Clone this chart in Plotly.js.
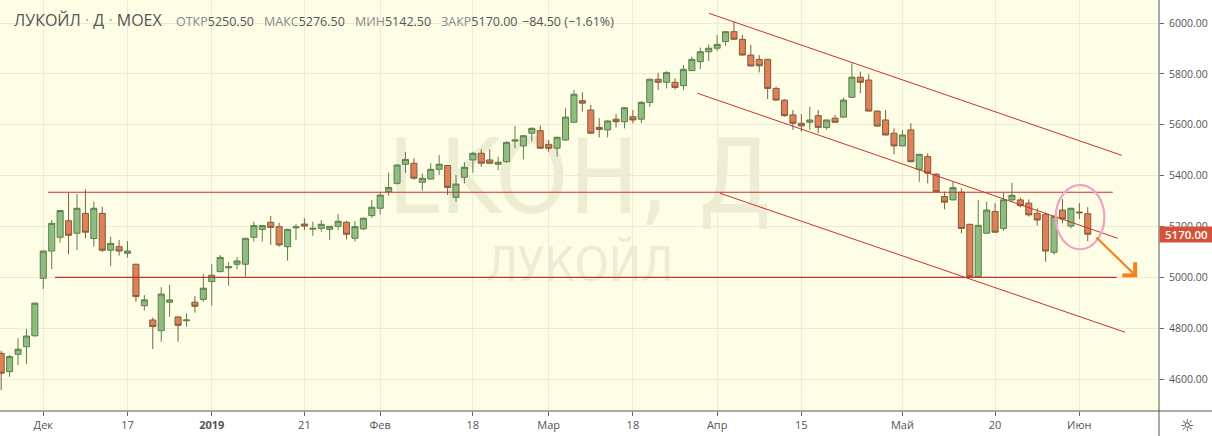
<!DOCTYPE html>
<html><head><meta charset="utf-8">
<script src="https://cdn.plot.ly/plotly-3.0.1.min.js"></script>
<style>html,body{margin:0;padding:0;background:#fff;}#chart{width:1212px;height:436px;}</style>
</head><body><div id="chart"></div>
<script>
const dates = [
'2018-11-26','2018-11-27','2018-11-28','2018-11-29','2018-11-30',
'2018-12-03','2018-12-04','2018-12-05','2018-12-06','2018-12-07','2018-12-10','2018-12-11','2018-12-12','2018-12-13','2018-12-14',
'2018-12-17','2018-12-18','2018-12-19','2018-12-20','2018-12-21','2018-12-24','2018-12-25','2018-12-26','2018-12-27','2018-12-28',
'2019-01-03','2019-01-04','2019-01-08','2019-01-09','2019-01-10','2019-01-11','2019-01-14','2019-01-15','2019-01-16','2019-01-17','2019-01-18',
'2019-01-21','2019-01-22','2019-01-23','2019-01-24','2019-01-25','2019-01-28','2019-01-29','2019-01-30','2019-01-31',
'2019-02-01','2019-02-04','2019-02-05','2019-02-06','2019-02-07','2019-02-08','2019-02-11','2019-02-12','2019-02-13','2019-02-14','2019-02-15',
'2019-02-18','2019-02-19','2019-02-20','2019-02-21','2019-02-22','2019-02-25','2019-02-26','2019-02-27','2019-02-28',
'2019-03-01','2019-03-04','2019-03-05','2019-03-06','2019-03-07','2019-03-11','2019-03-12','2019-03-13','2019-03-14','2019-03-15',
'2019-03-18','2019-03-19','2019-03-20','2019-03-21','2019-03-22','2019-03-25','2019-03-26','2019-03-27','2019-03-28','2019-03-29',
'2019-04-01','2019-04-02','2019-04-03','2019-04-04','2019-04-05','2019-04-08','2019-04-09','2019-04-10','2019-04-11','2019-04-12',
'2019-04-15','2019-04-16','2019-04-17','2019-04-18','2019-04-19','2019-04-22','2019-04-23','2019-04-24','2019-04-25','2019-04-26','2019-04-29','2019-04-30',
'2019-05-02','2019-05-03','2019-05-06','2019-05-07','2019-05-08','2019-05-10','2019-05-13','2019-05-14','2019-05-15','2019-05-16','2019-05-17',
'2019-05-20','2019-05-21','2019-05-22','2019-05-23','2019-05-24','2019-05-27','2019-05-28','2019-05-29','2019-05-30','2019-05-31',
'2019-06-03','2019-06-04'];

const open = [
4702,4630,4698,4728,4771,
4997,5104,5158,5223,5174,5252,5153,5252,5107,5121,
5095,5052,4889,4833,4791,4903,4845,4830,4903,4914,
4984,5023,5038,5052,5052,5158,5189,5217,5200,5121,5195,
5210,5190,5193,5189,5201,5217,5154,5191,5243,
5272,5337,5370,5445,5449,5374,5387,5425,5440,5315,5394,
5462,5488,5462,5445,5455,5536,5517,5567,5577,
5523,5508,5540,5610,5695,5658,5590,5580,5622,5612,
5632,5622,5688,5779,5767,5767,5754,5813,5848,5887,
5901,5927,5966,5936,5874,5857,5857,5743,5697,5639,
5606,5610,5636,5589,5626,5630,5708,5787,5776,5654,5619,5567,
5517,5580,5425,5475,5406,5318,5305,5335,5209,5003,5174,
5259,5193,5305,5305,5292,5252,5248,5099,5265,5202,
5257,5250.5];

const high = [
4712,4696,4761,4797,4903,
5106,5226,5265,5333,5328,5347,5298,5278,5160,5147,
5143,5054,4931,4842,4962,4971,4848,4859,4927,5014,
5052,5088,5060,5080,5156,5219,5207,5242,5215,5192,5210,
5233,5219,5226,5203,5250,5222,5222,5235,5305,
5337,5412,5445,5494,5468,5409,5449,5481,5442,5403,5453,
5494,5504,5504,5475,5535,5595,5560,5590,5597,
5540,5553,5665,5737,5728,5678,5626,5618,5642,5670,
5658,5694,5781,5805,5811,5783,5835,5868,5903,5916,
5953,5968,6005,5953,5914,5874,5860,5750,5700,5658,
5642,5671,5658,5620,5639,5707,5842,5809,5798,5656,5658,5586,
5580,5606,5486,5488,5410,5337,5379,5350,5211,5305,5298,
5292,5333,5372,5314,5307,5272,5255,5246,5308,5274,
5292,5276.5];

const low = [
4558,4610,4656,4660,4767,
4955,5033,5137,5091,5108,5154,5121,5100,5045,5086,
5078,4905,4870,4719,4748,4846,4748,4807,4862,4905,
4889,5020,4968,5032,5003,5141,5141,5128,5121,5066,5147,
5187,5164,5180,5147,5187,5150,5141,5187,5235,
5248,5321,5365,5410,5385,5341,5385,5403,5324,5298,5370,
5412,5435,5445,5422,5450,5508,5464,5534,5505,
5494,5475,5537,5608,5652,5565,5551,5551,5589,5586,
5606,5606,5671,5737,5743,5739,5737,5811,5819,5851,
5890,5911,5934,5872,5829,5806,5701,5694,5632,5580,
5573,5580,5567,5580,5608,5628,5706,5724,5652,5593,5558,5484,
5515,5452,5376,5370,5335,5268,5303,5174,5000,5000,5172,
5176,5183,5296,5276,5239,5204,5062,5090,5213,5193,
5230,5142.5];

const close = [
4624,4689,4718,4770,4899,
5104,5213,5263,5166,5272,5178,5272,5107,5134,5104,
5104,4925,4912,4807,4935,4912,4812,4833,4887,4958,
5009,5079,5042,5065,5154,5204,5204,5197,5128,5189,5199,
5202,5193,5209,5201,5221,5170,5200,5233,5276,
5324,5354,5442,5464,5390,5390,5425,5445,5354,5367,5433,
5488,5449,5449,5453,5531,5540,5557,5586,5508,
5508,5551,5630,5720,5685,5567,5582,5615,5612,5667,
5619,5688,5779,5767,5805,5747,5818,5857,5887,5901,
5916,5966,5936,5874,5831,5832,5743,5697,5636,5606,
5596,5619,5590,5619,5610,5697,5787,5767,5654,5595,5560,5517,
5560,5455,5484,5410,5337,5296,5353,5193,5003,5205,5265,
5178,5305,5323,5282,5246,5226,5104,5239,5230,5272,
5254.5,5170];

const tickDates = ['2018-12-03','2018-12-17','2019-01-03','2019-01-21','2019-02-01','2019-02-18','2019-03-01','2019-03-18','2019-04-01','2019-04-15','2019-05-02','2019-05-20','2019-06-03'];
const tickLabels = ['Дек','17','<b>2019</b>','21','Фев','18','Мар','18','Апр','15','Май','20','Июн'];

// drawing tools: [barIndex, price] endpoints
const levelTop = [[5.56, 5335], [131.97, 5335]];
const levelBottom = [[6.39, 5000.6], [132.44, 5000.6]];
const channelTop = [[84.04, 6038], [133.04, 5480]];
const channelMid = [[82.65, 5724], [132.56, 5154]];
const channelBot = [[85.34, 5331], [133.43, 4785]];
const ellipseBox = [[125.2, 5111], [130.97, 5363]];
const arrowLine = [[129.86, 5163], [134.88, 5001]];

const symbolName = 'ЛУКОЙЛ · Д · MOEX';
const watermarkMain = 'LKOH, Д';
const watermarkSub = 'ЛУКОЙЛ';

const n = close.length;
const chg = close[n-1] - close[n-2];
const pct = chg / close[n-2] * 100;
const fmt = v => (v < 0 ? '\u2212' : '') + Math.abs(v).toFixed(2);

const RED = '#C8322D';
const lbl = '#8a8a8a', val = '#555555';
const F = 'Open Sans, sans-serif';
const WF = 'Liberation Sans Narrow, DejaVu Sans Condensed, sans-serif';

function seg(p, color, w) {
  return {type:'line', xref:'x', yref:'y', x0:p[0][0], y0:p[0][1], x1:p[1][0], y1:p[1][1],
          line:{color:color, width:w}, layer:'above'};
}

const trace = {
  type:'candlestick', x:dates, open:open, high:high, low:low, close:close,
  increasing:{line:{color:'#5E7E4C', width:1}, fillcolor:'#8FBC80'},
  decreasing:{line:{color:'#7E5E3C', width:1}, fillcolor:'#E08058'},
  whiskerwidth:0, hoverinfo:'skip'
};

const px2x = (px) => px / 1159;
const py2y = (py) => 1 - py / 411;

const headerItems = [
  ['ОТКР', open[n-1].toFixed(2), 176],
  ['МАКС', high[n-1].toFixed(2), 264],
  ['МИН', low[n-1].toFixed(2), 355],
  ['ЗАКР', close[n-1].toFixed(2), 441]
];

const annotations = [
  {xref:'paper', yref:'paper', x:px2x(12), y:py2y(20), xanchor:'left', yanchor:'middle', showarrow:false,
   text:'ЛУКОЙЛ<span style="color:#aaa"> · </span>Д<span style="color:#aaa"> · </span>MOEX',
   font:{family:F, size:16, color:'#555'}},
  ...headerItems.map(h => ({xref:'paper', yref:'paper', x:px2x(h[2]-2), y:py2y(21), xanchor:'left', yanchor:'middle', showarrow:false,
     text:'<span style="color:'+lbl+'">'+h[0]+'</span>'+h[1], font:{family:F, size:12.5, color:val}})),
  {xref:'paper', yref:'paper', x:px2x(520), y:py2y(21), xanchor:'left', yanchor:'middle', showarrow:false,
   text: fmt(chg) + ' (' + fmt(pct) + '%)', font:{family:F, size:12.5, color:val}},
  {xref:'paper', yref:'y', x:1, y:close[n-1], xanchor:'left', yanchor:'middle', showarrow:false,
   text: close[n-1].toFixed(2), font:{family:F, size:11.5, color:'#ffffff', weight:600},
   bgcolor:'#D4523A', width:51, height:13, borderpad:1},
  {xref:'x', yref:'y', x:arrowLine[1][0], y:arrowLine[1][1], ax:arrowLine[0][0], ay:arrowLine[0][1],
   axref:'x', ayref:'y', showarrow:true, arrowhead:4, arrowsize:1.6, arrowwidth:2.2, arrowcolor:'#F58220', text:''},
  {xref:'paper', yref:'paper', x:px2x(1187), y:py2y(425), xanchor:'center', yanchor:'middle', showarrow:false,
   text:'☼', font:{family:'DejaVu Sans', size:16, color:'#333'}}
];

const shapes = [
  {type:'rect', xref:'paper', yref:'paper', x0:0.25, x1:0.75, y0:py2y(215), y1:py2y(125), line:{width:0}, fillcolor:'rgba(0,0,0,0)', layer:'between',
   label:{text:watermarkMain, textposition:'middle center', font:{family:WF, size:104, color:'#EDEDD4'}}},
  {type:'rect', xref:'paper', yref:'paper', x0:0.3, x1:0.7, y0:py2y(283), y1:py2y(238), line:{width:0}, fillcolor:'rgba(0,0,0,0)', layer:'between',
   label:{text:watermarkSub, textposition:'middle center', font:{family:WF, size:48, color:'#EDEDD4'}}},
  seg(levelTop, RED, 1.1), seg(levelBottom, RED, 1.1),
  seg(channelTop, RED, 1), seg(channelMid, RED, 1), seg(channelBot, RED, 1),
  {type:'circle', xref:'x', yref:'y', x0:ellipseBox[0][0], y0:ellipseBox[0][1], x1:ellipseBox[1][0], y1:ellipseBox[1][1],
   line:{color:'#F2A2C4', width:2.2}, fillcolor:'rgba(0,0,0,0)', layer:'above'},
  {type:'line', xref:'paper', yref:'paper', x0:1, x1:1, y0:-25/411, y1:1, line:{color:'#555', width:1}},
  {type:'line', xref:'paper', yref:'paper', x0:0, x1:1212/1159, y0:0, y1:0, line:{color:'#555', width:1}}
];

const layout = {
  width:1212, height:436,
  margin:{l:0, r:53, t:0, b:25, pad:0},
  paper_bgcolor:'#ffffff', plot_bgcolor:'#FEFEE6',
  showlegend:false, hovermode:false, dragmode:false,
  boxgap:0.28, boxgroupgap:0,
  font:{family:F, color:'#555'},
  xaxis:{type:'category', range:[-0.14, 137.46], rangeslider:{visible:false},
    tickmode:'array', tickvals:tickDates, ticktext:tickLabels,
    showgrid:true, gridcolor:'#ECECD6', gridwidth:1, zeroline:false,
    ticks:'outside', ticklen:4, tickcolor:'#666', showline:false,
    tickfont:{family:F, size:11, color:'#555'}},
  yaxis:{side:'right', range:[4475.4, 6090.4], tick0:0, dtick:200, tickformat:'.2f',
    showgrid:true, gridcolor:'#ECECD6', gridwidth:1, zeroline:false,
    ticks:'outside', ticklen:4, tickcolor:'#666', showline:false, ticklabelstandoff:3,
    tickfont:{family:F, size:10.5, color:'#555'}},
  shapes:shapes, annotations:annotations
};

Plotly.newPlot('chart', [trace], layout, {displayModeBar:false, staticPlot:true});
</script>
</body></html>
